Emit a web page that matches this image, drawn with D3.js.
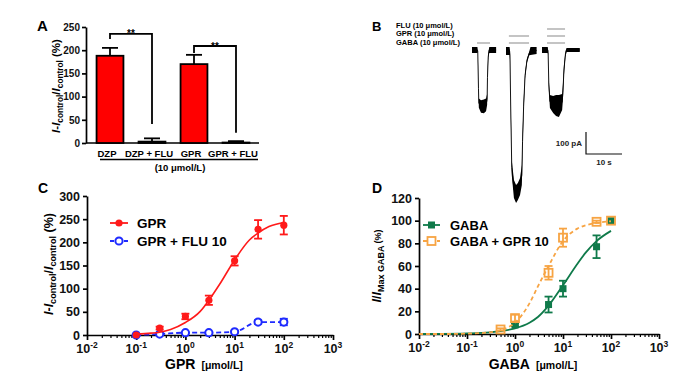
<!DOCTYPE html>
<html>
<head>
<meta charset="utf-8">
<script src="https://cdn.jsdelivr.net/npm/d3@7"></script>
<style>
body{margin:0;background:#fff}
svg{display:block;font-family:"Liberation Sans",Arial,sans-serif}
</style>
</head>
<body>
<svg id="fig" width="695" height="373"></svg>
<script>
// ---- panel A: bar chart (10 umol/L)
var barLabels = ["DZP", "DZP + FLU", "GPR", "GPR + FLU"];
var barValues = [188, 3, 170, 1];
var barErrors = [17, 7, 20, 3];
var barTicks = [0, 50, 100, 150, 200, 250];
// brackets: from bar, to bar, bracket top, left leg end, right leg end (in %)
var sigBrackets = [
    {from: 0, to: 1, top: 235, left: 224, right: 41, text: "**"},
    {from: 2, to: 3, top: 209, left: 194, right: 22, text: "**"}
];

// ---- panel B: current traces, [time s, amplitude low pA, amplitude high pA]
var trace1 = [[0,-14,14],[1.5,-14,14],[1.6,0,9],[1.8,150,200],[1.9,220,262],[2.5,228,285],[3.3,225,288],
    [3.9,220,278],[4.2,200,250],[4.3,100,150],[4.5,20,45],[4.7,-5,18],[4.8,-14,14],[6.7,-14,14]];
var trace2 = [[0,-14,23],[1.0,-14,23],[1.1,0,45],[1.3,227,273],[1.6,500,568],[2.2,591,673],[2.8,614,695],
    [3.3,605,682],[3.9,582,659],[4.4,523,614],[4.6,380,450],[4.9,230,280],[5.3,100,130],[5.8,40,60],
    [6.4,10,25],[6.8,-14,23],[8.5,-14,18]];
var trace3 = [[0,-14,14],[1.6,-14,14],[1.7,0,23],[1.9,136,182],[2.2,205,264],[3.1,209,286],[3.9,205,300],
    [4.7,205,305],[5.6,200,273],[5.8,159,227],[6.1,68,114],[6.5,9,32],[6.8,-9,9],[10.5,-9,9]];
var drugs = ["FLU", "GPR", "GABA"];
var drugLegend = ["FLU (10 μmol/L)", "GPR (10 μmol/L)", "GABA (10 μmol/L)"];
var apps1 = [{drug: "GABA", on: 1.4, off: 5.0}];
var apps2 = [{drug: "GPR", on: 0.8, off: 6.4}, {drug: "GABA", on: 0.8, off: 6.4}];
var apps3 = [{drug: "FLU", on: 1.4, off: 6.4}, {drug: "GPR", on: 1.4, off: 6.4}, {drug: "GABA", on: 1.4, off: 6.4}];

// ---- panel C: GPR concentration-response
var logTicks = [0.01, 0.1, 1, 10, 100, 1000];
var cTicks = [0, 50, 100, 150, 200, 250, 300];
var gprConc = [0.1, 0.3, 1, 3, 10, 30, 100];
var gprResp = [0, 15, 40, 75, 160, 228, 237];
var gprErr = [0, 3, 6, 10, 10, 20, 20];
var fluConc = [0.1, 0.3, 1, 3, 10, 30, 100];
var fluResp = [0, 2, 5, 5, 7, 28, 28];
var fluErr = [0, 1, 1, 1, 2, 4, 7];
var gprFitConc = [0.1, 0.2, 0.3, 0.5, 1, 2, 3, 5, 10, 20, 30, 50, 100];
var gprFitResp = [2, 4, 6, 12, 27, 51, 75, 110, 162, 205, 220, 234, 243];

// ---- panel D: GABA concentration-response
var dTicks = [0, 20, 40, 60, 80, 100, 120];
var gabaConc = [1, 5, 10, 50, 100];
var gabaResp = [8, 26, 40, 77, 100];
var gabaErr = [1, 7, 7, 10, 0];
var gabaGprConc = [0.5, 1, 5, 10, 50, 100];
var gabaGprResp = [4, 14, 54, 85, 99, 100];
var gabaGprErr = [1, 3, 6, 8, 1, 0];
var fitConc = [0.01, 0.03, 0.1, 0.3, 0.5, 1, 2, 3, 5, 10, 20, 30, 50, 100];
var gabaFit = [0, 0.1, 0.5, 1.5, 2.5, 5, 10, 15, 25, 43, 62, 72, 82, 91];
var gabaGprFit = [0, 0, 0.3, 1.5, 3.5, 10, 27, 42, 60, 82, 93, 96, 98, 99.5];

var svg = d3.select("#fig");
var RED = "#ff1a1a", BLUE = "#1f2bff", GREEN = "#0f7a4a", ORANGE = "#f7a443";

function styleAxis(g, size) {
    g.selectAll("path, line").attr("stroke", "#000").attr("stroke-width", 1.7);
    g.selectAll("text").attr("font-size", size).attr("font-weight", "bold").attr("fill", "#111");
}

function panelLabel(x, y, t, size) {
    svg.append("text").attr("x", x).attr("y", y).attr("font-size", size)
        .attr("font-weight", "bold").text(t);
}

// rotated y label with italic I and subscripts
function yLabel(x, y, parts, size) {
    var t = svg.append("text").attr("transform", "translate(" + x + "," + y + ") rotate(-90)")
        .attr("text-anchor", "middle").attr("font-size", size).attr("font-weight", "bold");
    var shifted = false;
    parts.forEach(function(p) {
        var s = t.append("tspan").text(p.t);
        if (p.i) s.attr("font-style", "italic");
        if (p.sub) {
            s.attr("font-size", size * 0.72);
            if (!shifted) { s.attr("dy", 3); shifted = true; }
        } else {
            if (p.small) s.attr("font-size", size * 0.72);
            if (shifted) { s.attr("dy", -3); shifted = false; }
        }
    });
}

function logAxis(x, y0, labelY) {
    var minor = [];
    logTicks.slice(0, -1).forEach(function(d) {
        for (var k = 2; k <= 9; k++) minor.push(d * k);
    });
    var gm = svg.append("g").attr("transform", "translate(0," + y0 + ")")
        .call(d3.axisBottom(x).tickValues(minor).tickSize(3).tickFormat(""));
    gm.select(".domain").remove();
    styleAxis(gm, 10);
    gm.selectAll("line").attr("stroke-width", 1.2);
    var g = svg.append("g").attr("transform", "translate(0," + y0 + ")")
        .call(d3.axisBottom(x).tickValues(logTicks).tickSize(5).tickSizeOuter(0).tickFormat(""));
    styleAxis(g, 10);
    logTicks.forEach(function(v) {
        var t = svg.append("text").attr("x", x(v)).attr("y", labelY).attr("text-anchor", "middle")
            .attr("font-weight", "bold").attr("font-size", 12.5).attr("fill", "#111");
        t.append("tspan").text("10");
        t.append("tspan").attr("dy", -5).attr("font-size", 8.5).text(Math.round(Math.log10(v)));
    });
}

function errorBars(x, y, conc, resp, err, color, cap) {
    var g = svg.append("g").attr("stroke", color).attr("stroke-width", 1.8);
    conc.forEach(function(c, i) {
        if (!err[i]) return;
        var cx = x(c);
        g.append("line").attr("x1", cx).attr("x2", cx).attr("y1", y(resp[i] - err[i])).attr("y2", y(resp[i] + err[i]));
        g.append("line").attr("x1", cx - cap).attr("x2", cx + cap).attr("y1", y(resp[i] + err[i])).attr("y2", y(resp[i] + err[i]));
        g.append("line").attr("x1", cx - cap).attr("x2", cx + cap).attr("y1", y(resp[i] - err[i])).attr("y2", y(resp[i] - err[i]));
    });
}

function xTitle(cx, y, main, unit) {
    var t = svg.append("text").attr("x", cx).attr("y", y).attr("text-anchor", "middle").attr("font-weight", "bold");
    t.append("tspan").attr("font-size", 14).text(main);
    t.append("tspan").attr("font-size", 10.5).attr("dx", 6).text(unit);
}

// ================= A =================
(function() {
    var y = d3.scaleLinear().domain([0, 250]).range([143, 27]);
    var x = d3.scaleBand().domain(barLabels).range([89, 257]).paddingInner(0.36).paddingOuter(0.18);

    var gx = svg.append("g").attr("transform", "translate(0,143)")
        .call(d3.axisBottom(x).tickSize(0).tickSizeOuter(0).tickFormat(""));
    gx.select(".domain").attr("d", "M86,0H259");
    styleAxis(gx, 10);
    var gy = svg.append("g").attr("transform", "translate(86,0)")
        .call(d3.axisLeft(y).tickValues(barTicks).tickSize(4).tickPadding(2).tickSizeOuter(0));
    styleAxis(gy, 10);

    svg.append("g").selectAll("rect").data(barValues).enter().append("rect")
        .attr("x", function(d, i) { return x(barLabels[i]); })
        .attr("width", x.bandwidth())
        .attr("y", function(d) { return y(d); })
        .attr("height", function(d) { return y(0) - y(d); })
        .attr("fill", "#ff0000").attr("stroke", "#000").attr("stroke-width", 1.8);

    var eb = svg.append("g").attr("stroke", "#000").attr("stroke-width", 1.8);
    barValues.forEach(function(v, i) {
        var cx = x(barLabels[i]) + x.bandwidth() / 2;
        eb.append("line").attr("x1", cx).attr("x2", cx).attr("y1", y(v)).attr("y2", y(v + barErrors[i]));
        eb.append("line").attr("x1", cx - 8).attr("x2", cx + 8).attr("y1", y(v + barErrors[i])).attr("y2", y(v + barErrors[i]));
    });

    var bk = svg.append("g").attr("stroke", "#000").attr("stroke-width", 1.8).attr("fill", "none");
    sigBrackets.forEach(function(b) {
        var x1 = x(barLabels[b.from]) + x.bandwidth() / 2, x2 = x(barLabels[b.to]) + x.bandwidth() / 2;
        bk.append("path").attr("d", "M" + x1 + "," + y(b.left) + "V" + y(b.top) + "H" + x2 + "V" + y(b.right));
        svg.append("text").attr("x", (x1 + x2) / 2).attr("y", y(b.top) + 3.5).attr("text-anchor", "middle")
            .attr("font-size", 10).attr("font-weight", "bold").text(b.text);
    });

    svg.append("g").selectAll("text").data(barLabels).enter().append("text")
        .attr("x", function(d) { return x(d) + x.bandwidth() / 2 - 3; })
        .attr("y", 157).attr("text-anchor", "middle").attr("font-size", 9.5).attr("font-weight", "bold")
        .text(function(d) { return d; });
    svg.append("line").attr("x1", 100).attr("x2", 258).attr("y1", 159.5).attr("y2", 159.5)
        .attr("stroke", "#000").attr("stroke-width", 1.4);
    svg.append("text").attr("x", 180).attr("y", 171).attr("text-anchor", "middle").attr("font-size", 9.5)
        .attr("font-weight", "bold").text("(10 μmol/L)");

    yLabel(60, 86, [{t: "I", i: true}, {t: "-"}, {t: "I", i: true}, {t: "control", sub: true}, {t: "/"},
        {t: "I", i: true}, {t: "control", sub: true}, {t: " (%)"}], 11.5);
    panelLabel(37, 31, "A", 15);
})();

// ================= B =================
(function() {
    var t = d3.scaleLinear().domain([0, 10]).range([0, 36]);
    var a = d3.scaleLinear().domain([0, 100]).range([50, 72]);
    var row = d3.scalePoint().domain(drugs).range([29, 43]);

    function drawTrace(data, apps, x0) {
        var g = svg.append("g").attr("transform", "translate(" + x0 + ",0)");
        g.append("path").datum(data)
            .attr("d", d3.area().x(function(d) { return t(d[0]); })
                .y0(function(d) { return a(d[1]); }).y1(function(d) { return a(d[2]); }))
            .attr("fill", "#000");
        g.append("path").datum(data)
            .attr("d", d3.line().x(function(d) { return t(d[0]); }).y(function(d) { return a((d[1] + d[2]) / 2); }))
            .attr("fill", "none").attr("stroke", "#000").attr("stroke-width", 0.9);
        g.selectAll("line.app").data(apps).enter().append("line")
            .attr("x1", function(d) { return t(d.on); }).attr("x2", function(d) { return t(d.off); })
            .attr("y1", function(d) { return row(d.drug); }).attr("y2", function(d) { return row(d.drug); })
            .attr("stroke", "#b5b5b5").attr("stroke-width", 1.6);
    }
    drawTrace(trace1, apps1, 472);
    drawTrace(trace2, apps2, 506);
    drawTrace(trace3, apps3, 542);

    svg.append("g").selectAll("text").data(drugLegend).enter().append("text")
        .attr("x", 396).attr("y", function(d, i) { return 27.5 + i * 8.7; })
        .attr("font-size", 7.5).attr("font-weight", "bold").text(function(d) { return d; });

    // scale bar: 100 pA, 10 s
    var sx = 586, sy = 154;
    svg.append("path").attr("d", "M" + sx + "," + (sy - (a(100) - a(0))) + "V" + sy + "H" + (sx + t(10)))
        .attr("fill", "none").attr("stroke", "#111").attr("stroke-width", 1.2);
    svg.append("text").attr("x", sx - 4).attr("y", 146).attr("text-anchor", "end").attr("font-size", 8)
        .attr("font-weight", "bold").attr("fill", "#222").text("100 pA");
    svg.append("text").attr("x", sx + t(5)).attr("y", 165).attr("text-anchor", "middle").attr("font-size", 8)
        .attr("font-weight", "bold").attr("fill", "#222").text("10 s");

    panelLabel(372, 31, "B", 13);
})();

// ================= C =================
(function() {
    var x = d3.scaleLog().domain([0.01, 1000]).range([87, 333]);
    var y = d3.scaleLinear().domain([0, 300]).range([335, 196]);

    logAxis(x, 335, 353);
    var gy = svg.append("g").attr("transform", "translate(87,0)")
        .call(d3.axisLeft(y).tickValues(cTicks).tickSize(4).tickPadding(3).tickSizeOuter(0));
    styleAxis(gy, 12.5);

    // GPR + FLU (dashed)
    svg.append("path").datum(d3.zip(fluConc, fluResp))
        .attr("d", d3.line().curve(d3.curveMonotoneX).x(function(d) { return x(d[0]); }).y(function(d) { return y(d[1]); }))
        .attr("fill", "none").attr("stroke", BLUE).attr("stroke-width", 1.8).attr("stroke-dasharray", "5,3");
    errorBars(x, y, fluConc, fluResp, fluErr, BLUE, 4);
    svg.append("g").selectAll("circle").data(fluConc).enter().append("circle")
        .attr("cx", function(d) { return x(d); }).attr("cy", function(d, i) { return y(fluResp[i]); })
        .attr("r", 3.6).attr("fill", "#fff").attr("stroke", BLUE).attr("stroke-width", 2);

    // GPR
    svg.append("path").datum(d3.zip(gprFitConc, gprFitResp))
        .attr("d", d3.line().curve(d3.curveMonotoneX).x(function(d) { return x(d[0]); }).y(function(d) { return y(d[1]); }))
        .attr("fill", "none").attr("stroke", RED).attr("stroke-width", 1.6);
    errorBars(x, y, gprConc, gprResp, gprErr, RED, 4);
    svg.append("g").selectAll("circle").data(gprConc).enter().append("circle")
        .attr("cx", function(d) { return x(d); }).attr("cy", function(d, i) { return y(gprResp[i]); })
        .attr("r", 3.6).attr("fill", RED);

    // legend
    var lg = svg.append("g");
    lg.append("line").attr("x1", 110).attr("x2", 128).attr("y1", 223).attr("y2", 223).attr("stroke", RED).attr("stroke-width", 1.8);
    lg.append("circle").attr("cx", 119).attr("cy", 223).attr("r", 3.6).attr("fill", RED);
    lg.append("text").attr("x", 137).attr("y", 228).attr("font-size", 13.5).attr("font-weight", "bold").text("GPR");
    lg.append("line").attr("x1", 110).attr("x2", 128).attr("y1", 241).attr("y2", 241).attr("stroke", BLUE)
        .attr("stroke-width", 1.8).attr("stroke-dasharray", "4,3");
    lg.append("circle").attr("cx", 119).attr("cy", 241).attr("r", 3.6).attr("fill", "#fff").attr("stroke", BLUE).attr("stroke-width", 2);
    lg.append("text").attr("x", 137).attr("y", 246).attr("font-size", 13.5).attr("font-weight", "bold").text("GPR + FLU 10");

    xTitle(204, 369, "GPR", "[μmol/L]");
    yLabel(53, 264, [{t: "I", i: true}, {t: "-"}, {t: "I", i: true}, {t: "control", sub: true}, {t: "/"},
        {t: "I", i: true}, {t: "control", sub: true}, {t: " (%)"}], 12.5);
    panelLabel(38, 193, "C", 14);
})();

// ================= D =================
(function() {
    var x = d3.scaleLog().domain([0.01, 1000]).range([419, 659]);
    var y = d3.scaleLinear().domain([0, 120]).range([334, 198]);

    logAxis(x, 334, 352);
    var gy = svg.append("g").attr("transform", "translate(419,0)")
        .call(d3.axisLeft(y).tickValues(dTicks).tickSize(4).tickPadding(3).tickSizeOuter(0));
    styleAxis(gy, 12.5);

    var line = d3.line().curve(d3.curveMonotoneX).x(function(d) { return x(d[0]); }).y(function(d) { return y(d[1]); });

    // GABA
    svg.append("path").datum(d3.zip(fitConc, gabaFit)).attr("d", line)
        .attr("fill", "none").attr("stroke", GREEN).attr("stroke-width", 1.8);
    errorBars(x, y, gabaConc, gabaResp, gabaErr, GREEN, 4);
    svg.append("g").selectAll("rect").data(gabaConc).enter().append("rect")
        .attr("x", function(d) { return x(d) - 3.5; }).attr("y", function(d, i) { return y(gabaResp[i]) - 3.5; })
        .attr("width", 7).attr("height", 7).attr("fill", GREEN);

    // GABA + GPR 10
    svg.append("path").datum(d3.zip(fitConc, gabaGprFit)).attr("d", line)
        .attr("fill", "none").attr("stroke", ORANGE).attr("stroke-width", 1.8).attr("stroke-dasharray", "4,3");
    errorBars(x, y, gabaGprConc, gabaGprResp, gabaGprErr, ORANGE, 4);
    svg.append("g").selectAll("rect").data(gabaGprConc).enter().append("rect")
        .attr("x", function(d) { return x(d) - 4; }).attr("y", function(d, i) { return y(gabaGprResp[i]) - 4; })
        .attr("width", 8).attr("height", 8).attr("fill", "none").attr("stroke", ORANGE).attr("stroke-width", 1.8);

    // legend
    var lg = svg.append("g");
    lg.append("line").attr("x1", 423).attr("x2", 440).attr("y1", 225).attr("y2", 225).attr("stroke", GREEN).attr("stroke-width", 1.8);
    lg.append("rect").attr("x", 428).attr("y", 221.5).attr("width", 7).attr("height", 7).attr("fill", GREEN);
    lg.append("text").attr("x", 450).attr("y", 230).attr("font-size", 13).attr("font-weight", "bold").text("GABA");
    lg.append("line").attr("x1", 423).attr("x2", 440).attr("y1", 241).attr("y2", 241).attr("stroke", ORANGE)
        .attr("stroke-width", 1.8).attr("stroke-dasharray", "4,3");
    lg.append("rect").attr("x", 427.5).attr("y", 237).attr("width", 8).attr("height", 8).attr("fill", "#fff")
        .attr("stroke", ORANGE).attr("stroke-width", 1.8);
    lg.append("text").attr("x", 450).attr("y", 246).attr("font-size", 13).attr("font-weight", "bold").text("GABA + GPR 10");

    xTitle(533, 369, "GABA", "[μmol/L]");
    yLabel(381, 266, [{t: "I", i: true}, {t: "/"}, {t: "I", i: true}, {t: "Max GABA", sub: true}, {t: " (%)", small: true}], 12.5);
    panelLabel(372, 193, "D", 14);
})();
</script>
</body>
</html>
